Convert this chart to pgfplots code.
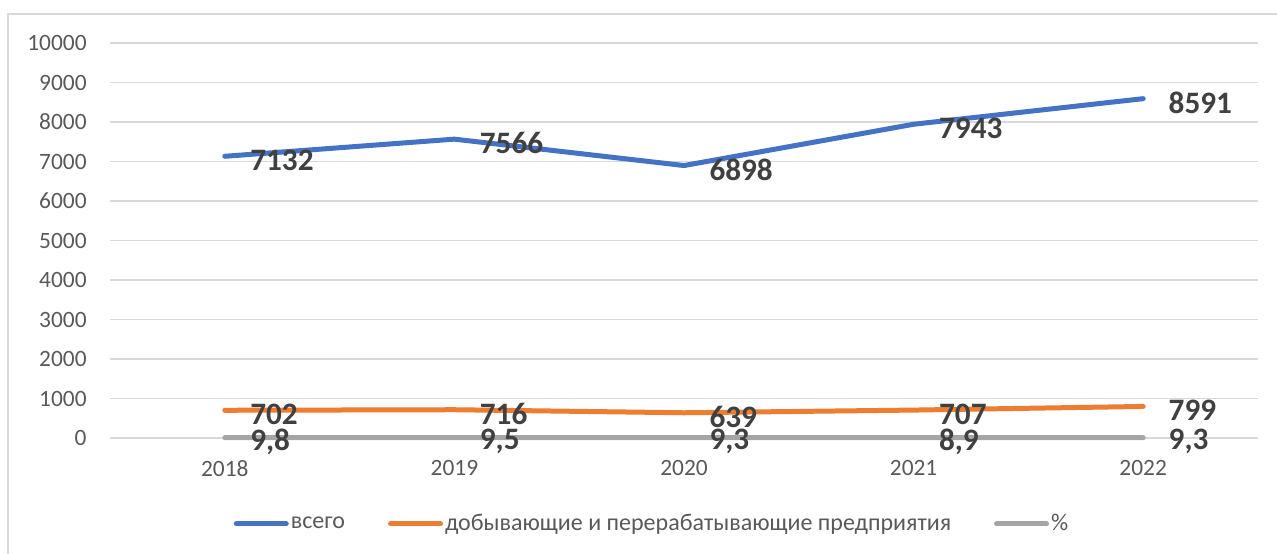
\documentclass[border=0pt]{standalone}
\usepackage{pgfplots}
\pgfplotsset{compat=1.18}
\usepackage{fontspec}
\setmainfont{Carlito}
\definecolor{cblue}{HTML}{4472C4}
\definecolor{corange}{HTML}{ED7D31}
\definecolor{cgray}{HTML}{A5A5A5}
\definecolor{gridc}{HTML}{D9D9D9}
\definecolor{textc}{HTML}{595959}
\definecolor{labc}{HTML}{404040}
\begin{document}
\begin{tikzpicture}
\useasboundingbox (-55pt,-57.5pt) rectangle (583.5pt,219pt);
\draw[color=gridc, line width=0.75pt] (-51pt,-70pt) rectangle (600pt,212pt);
\begin{axis}[
  at={(0pt,0pt)}, anchor=south west,
  scale only axis, width=574pt, height=197.5pt,
  xmin=-0.5, xmax=4.5, ymin=0, ymax=10000,
  xtick={0,1,2,3,4}, xticklabels={2018,2019,2020,2021,2022},
  ytick={0,1000,...,10000},
  scaled y ticks=false,
  ymajorgrids, grid style={color=gridc, line width=0.75pt},
  axis line style={draw=none}, major tick length=0pt,
  /pgf/number format/assume math mode=true,
  /pgf/number format/1000 sep={},
  /pgf/number format/fixed,
  tick label style={font=\fontsize{11.7}{13}\selectfont, text=textc, inner sep=0pt},
  yticklabel style={anchor=east, xshift=-11.5pt},
  xticklabel style={anchor=north, yshift=-11pt},
  clip=false,
  point meta=explicit symbolic,
  nodes near coords,
  every node near coord/.append style={anchor=west, inner sep=0pt, xshift=11.5pt, yshift=-2pt,
     font=\bfseries\fontsize{15.6}{17}\selectfont, text=labc},
  legend columns=3,
  legend cell align=left,
  legend style={at={(0.4721,-0.2175)}, anchor=center, draw=none, fill=none,
     font=\fontsize{12}{14}\selectfont, text=textc,
     nodes={inner sep=1pt},
     /tikz/every even column/.append style={column sep=20.5pt}},
  legend image code/.code={\draw[#1, line width=2.5pt, line cap=round] (1.25pt,0pt) -- (26.25pt,0pt);},
]
\addplot[color=cblue, line width=2.5pt, line cap=round, line join=round] coordinates {
  (0,7132) [7132] (1,7566) [7566] (2,6898) [6898] (3,7943) [7943] (4,8591) [8591]};
\addlegendentry{всего}
\addplot[color=corange, line width=2.5pt, line cap=round, line join=round] coordinates {
  (0,702) [702] (1,716) [716] (2,639) [639] (3,707) [707] (4,799) [799]};
\addlegendentry{добывающие и перерабатывающие предприятия}
\addplot[color=cgray, line width=2.5pt, line cap=round, line join=round] coordinates {
  (0,9.8) [{9,8}] (1,9.5) [{9,5}] (2,9.3) [{9,3}] (3,8.9) [{8,9}] (4,9.3) [{9,3}]};
\addlegendentry{\%}
\end{axis}
\end{tikzpicture}
\end{document}
